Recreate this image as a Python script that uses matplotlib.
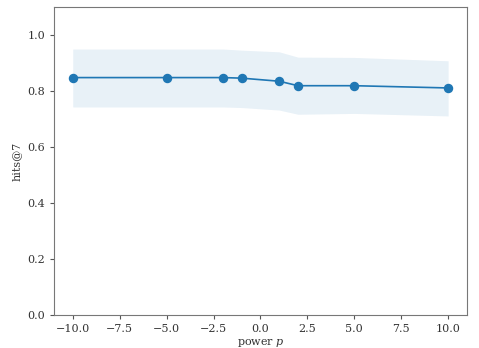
import numpy as np
import matplotlib
matplotlib.use("Agg")
import matplotlib.pyplot as plt

# power p vs hits@7 (mean and spread)
powers = [-10, -5, -2, -1, 1, 2, 5, 10]
hits_mean = [0.848, 0.848, 0.848, 0.846, 0.835, 0.819, 0.819, 0.811]
hits_upper = [0.950, 0.950, 0.950, 0.946, 0.940, 0.921, 0.920, 0.908]
hits_lower = [0.743, 0.743, 0.743, 0.741, 0.732, 0.717, 0.720, 0.711]

plt.rcParams['font.family'] = 'DejaVu Serif'
plt.rcParams['mathtext.fontset'] = 'dejavuserif'
plt.rcParams['font.size'] = 8

fig = plt.figure(figsize=(4.79, 3.48), dpi=100)
ax = fig.add_axes([0.1127, 0.0948, 0.862, 0.885])

ax.fill_between(powers, hits_lower, hits_upper, color='C0', alpha=0.1, linewidth=0)
ax.plot(powers, hits_mean, '-o', color='C0', markersize=5.8, linewidth=1.2)

ax.set_ylim(0, 1.1)
ax.set_xlim(-11, 11)
ax.set_yticks([0.0, 0.2, 0.4, 0.6, 0.8, 1.0])
ax.set_xlabel('power $p$', labelpad=2, color='#333333')
ax.set_ylabel('hits@7', labelpad=4, color='#333333')

for s in ax.spines.values():
    s.set_color('#777777')
ax.tick_params(colors='#555555', labelcolor='#333333', length=3)

fig.savefig('out.png', dpi=100)
